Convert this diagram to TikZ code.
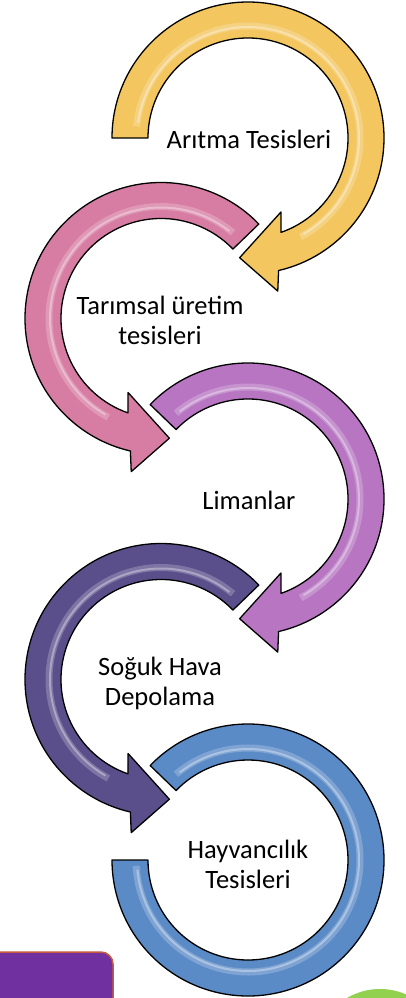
\documentclass[tikz,border=0pt]{standalone}
\usepackage{fontspec}
\setmainfont{Carlito}
\definecolor{aritgold}{HTML}{F3C65F}
\definecolor{tarimpink}{HTML}{D77CA2}
\definecolor{limanorchid}{HTML}{B775C2}
\definecolor{sogukindigo}{HTML}{5A4F8B}
\definecolor{hayvanblue}{HTML}{5B8BC7}
\definecolor{boxpurple}{HTML}{7030A0}
\definecolor{boxedge}{HTML}{C55A3E}
\definecolor{dotgreen}{HTML}{92D050}
\begin{document}
\begin{tikzpicture}[x=1pt,y=-1pt,line join=round,
label/.style={align=center,font=\fontsize{26.5}{30}\selectfont,inner sep=0pt},
band/.style={draw=black,line width=1.3pt},
shine/.style={draw=white,opacity=.22,line width=7pt},
gloss/.style={draw=white,opacity=.35,line width=2pt},
pics/bend/.style n args={2}{code={
  \filldraw[band,fill=#2] (#1:136) arc[start angle=#1,end angle=437,radius=136] -- (439:156) -- (454:120)
    -- (426:81) -- (430.7:100) arc[start angle=430.7,end angle=#1,radius=100] -- cycle;
  \draw[shine] ({#1+6}:112) arc[start angle=#1+6,end angle=422,radius=112];
  \draw[gloss] ({#1+8}:111) arc[start angle=#1+8,end angle=420,radius=111];
}}]
\useasboundingbox (0,0) rectangle (406,998);

% curved arrows, top to bottom
\pic at (248,138) {bend={180}{aritgold}};
\pic[xscale=-1] at (161,318.5) {bend={224}{tarimpink}};
\pic at (248,499) {bend={224}{limanorchid}};
\pic[xscale=-1] at (161,679.5) {bend={224}{sogukindigo}};
\filldraw[band,fill=hayvanblue,shift={(248,860)}] (224:136) arc[start angle=224,end angle=540,radius=136]
  -- (540:100) arc[start angle=540,end angle=224,radius=100] -- cycle;
\draw[shine,shift={(248,860)}] (230:112) arc[start angle=230,end angle=537,radius=112];
\draw[gloss,shift={(248,860)}] (232:111) arc[start angle=232,end angle=535,radius=111];

\node[label] (arit) at (249,139) {Arıtma Tesisleri};
\node[label] (tarim) at (160,320) {Tarımsal üretim\\tesisleri};
\node[label] (liman) at (249,500) {Limanlar};
\node[label] (soguk) at (160,683) {Soğuk Hava\\Depolama};
\node[label] (hayvan) at (248,864) {Hayvancılık\\Tesisleri};

% bottom corner shapes
\filldraw[draw=boxedge,fill=boxpurple,line width=1.5pt,rounded corners=12pt] (-20,1010) rectangle (113,952);
\fill[dotgreen] (380,1054) circle[radius=65];
\end{tikzpicture}
\end{document}
